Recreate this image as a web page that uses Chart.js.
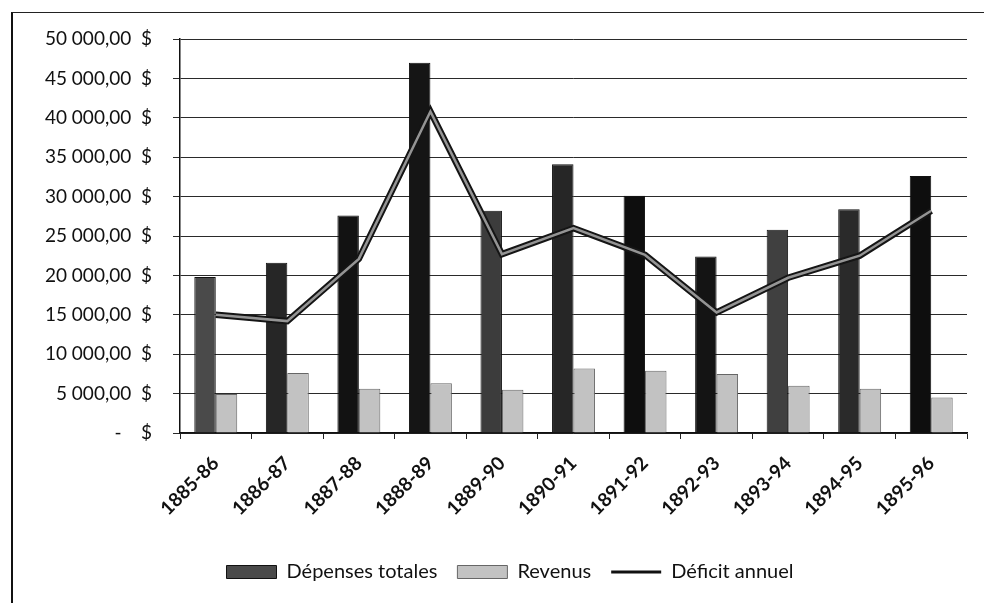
<!DOCTYPE html>
<html lang="fr">
<head>
<meta charset="utf-8">
<title>Dépenses, revenus et déficit annuel 1885-1896</title>
<script src="https://cdn.jsdelivr.net/npm/chart.js@4/dist/chart.umd.min.js"></script>
<style>
    html, body { margin: 0; padding: 0; background: #fff; }
    body { width: 984px; height: 603px; position: relative; overflow: hidden; }
    .frame {
        position: absolute;
        left: 11px;
        top: 12px;
        width: 971px;
        height: 590px;
        border-left: 2px solid #111;
        border-top: 1px solid #222;
    }
    canvas { display: block; }
</style>
</head>
<body>
<div class="frame">
    <canvas id="budgetChart" width="971" height="590"></canvas>
</div>
<script>
// Exercices financiers
const periods = ['1885-86', '1886-87', '1887-88', '1888-89', '1889-90', '1890-91',
                 '1891-92', '1892-93', '1893-94', '1894-95', '1895-96'];

// Dépenses totales ($)
const depenses = [19800, 21600, 27600, 47000, 28200, 34100, 30100, 22400, 25800, 28400, 32600];

// Revenus ($)
const revenus = [4950, 7600, 5600, 6300, 5500, 8200, 7900, 7500, 6000, 5600, 4500];

// Déficit annuel ($)
const deficit = [15000, 14200, 22100, 40800, 22700, 26000, 22600, 15300, 19700, 22500, 28200];

// Graduations de l'axe vertical
const yTicks = [0, 5000, 10000, 15000, 20000, 25000, 30000, 35000, 40000, 45000, 50000];

// Teintes des colonnes de dépenses (trame d'impression inégale)
const depensesColors = ['#4a4a4a', '#262626', '#121212', '#151515', '#3c3c3c', '#262626',
                        '#0e0e0e', '#141414', '#404040', '#2a2a2a', '#0e0e0e'];

const FONT = 'Lato, "Open Sans", "DejaVu Sans", sans-serif';
const INK = '#111';

// 50 000,00 $ style accounting format, "-" for zero
function formatDollars(value) {
    if (value === 0) return '-    $';
    const whole = Math.round(value).toString().replace(/\B(?=(\d{3})+(?!\d))/g, ' ');
    return whole + ',00  $';
}

// Nudge the legend row a little to the right of the canvas centre
const legendOffset = {
    id: 'legendOffset',
    afterLayout(chart) {
        if (chart.legend) chart.legend.left += 40;
    }
};

const ctx = document.getElementById('budgetChart');

const chart = new Chart(ctx, {
    data: {
        labels: periods,
        datasets: [
            {
                type: 'bar',
                label: 'Dépenses totales',
                data: depenses,
                backgroundColor: depensesColors,
                borderColor: '#111',
                borderWidth: 1,
                order: 2
            },
            {
                type: 'bar',
                label: 'Revenus',
                data: revenus,
                backgroundColor: '#c2c2c2',
                borderColor: '#666',
                borderWidth: 1,
                order: 3
            },
            {
                type: 'line',
                label: 'Déficit annuel',
                data: deficit,
                borderColor: '#151515',
                backgroundColor: '#151515',
                borderWidth: 6.5,
                pointRadius: 0,
                tension: 0,
                order: 1
            },
            {
                // lighter core stroked inside the deficit line
                type: 'line',
                label: 'core',
                data: deficit,
                borderColor: '#949494',
                borderWidth: 2.5,
                pointRadius: 0,
                tension: 0,
                order: 0
            }
        ]
    },
    options: {
        responsive: false,
        devicePixelRatio: 1,
        animation: false,
        layout: {
            padding: { top: 26, right: 17, bottom: 11, left: 0 }
        },
        datasets: {
            bar: {
                categoryPercentage: 0.6,
                barPercentage: 1.0
            }
        },
        plugins: {
            tooltip: { enabled: false },
            legend: {
                position: 'bottom',
                labels: {
                    color: INK,
                    font: { family: FONT, size: 20 },
                    usePointStyle: true,
                    pointStyleWidth: 50,
                    boxHeight: 13,
                    padding: 20,
                    filter: item => item.text !== 'core',
                    sort: (a, b) => a.datasetIndex - b.datasetIndex,
                    generateLabels: chart => {
                        const items = Chart.defaults.plugins.legend.labels.generateLabels(chart);
                        items.forEach(item => {
                            const type = chart.data.datasets[item.datasetIndex].type;
                            if (type === 'line') {
                                item.pointStyle = 'line';
                                item.strokeStyle = '#111';
                                item.lineWidth = 3;
                            } else {
                                item.pointStyle = 'rect';
                                item.lineWidth = 1;
                            }
                            if (item.datasetIndex === 0) {
                                item.fillStyle = '#4a4a4a';
                                item.strokeStyle = '#111';
                            }
                        });
                        return items;
                    }
                }
            }
        },
        scales: {
            x: {
                grid: {
                    display: true,
                    drawOnChartArea: false,
                    drawTicks: true,
                    tickLength: 6,
                    color: '#222'
                },
                border: { color: '#111', width: 1.5 },
                ticks: {
                    color: INK,
                    font: { family: FONT, size: 19, weight: 'bold' },
                    minRotation: 45,
                    maxRotation: 45,
                    padding: 13
                },
                afterFit: scale => { scale.height = 109; }
            },
            y: {
                min: 0,
                max: 50000,
                afterBuildTicks: scale => {
                    scale.ticks = yTicks.map(value => ({ value }));
                },
                grid: {
                    color: '#2a2a2a',
                    lineWidth: 1,
                    tickLength: 7
                },
                border: { color: '#111', width: 1.5 },
                ticks: {
                    color: INK,
                    font: { family: FONT, size: 19 },
                    padding: 21,
                    callback: value => formatDollars(value)
                },
                afterFit: scale => {
                    scale.width = 167;
                    scale.paddingTop = 0;
                    scale.paddingBottom = 0;
                }
            }
        }
    },
    plugins: [legendOffset]
});
</script>
</body>
</html>
